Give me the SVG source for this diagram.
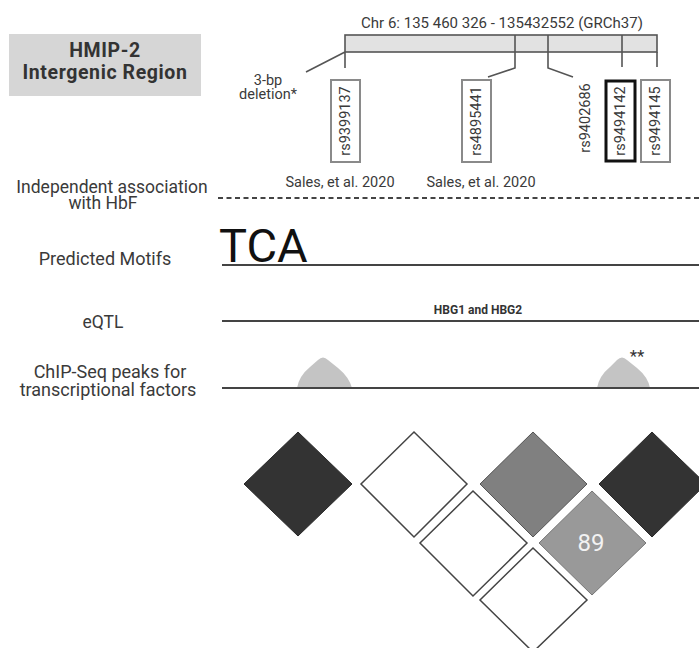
<svg xmlns="http://www.w3.org/2000/svg" width="699" height="648" viewBox="0 0 699 648">
<style>
text{font-family:Roboto,"Liberation Sans",sans-serif;fill:#3a3a3a}
.lab{font-size:17.5px;text-anchor:middle}
.rs{font-size:14.5px;text-anchor:middle}
.box{fill:none;stroke:#8a8a8a;stroke-width:2}
.trk{stroke:#444;stroke-width:2;fill:none}
.tick{stroke:#555;stroke-width:1.6;fill:none}
.dk{fill:#333;stroke:#2a2a2a;stroke-width:1}
.md{fill:#808080;stroke:#555;stroke-width:1}
.lt{fill:#999;stroke:#777;stroke-width:1}
.wh{fill:#fff;stroke:#444;stroke-width:1.5}
.peak{fill:#c4c4c4}
</style>
<g id="title">
<rect x="9" y="34" width="192" height="62" fill="#d6d6d6"/>
<text x="105" y="57" style="font-size:19.5px;font-weight:bold;text-anchor:middle;fill:#333;letter-spacing:0.6px">HMIP-2</text>
<text x="105" y="79" style="font-size:19.5px;font-weight:bold;text-anchor:middle;fill:#333;letter-spacing:0.6px">Intergenic Region</text>
</g>
<g id="chromosome">
<text x="502" y="28" style="font-size:15px;text-anchor:middle">Chr 6: 135 460 326 - 135432552 (GRCh37)</text>
<rect x="345" y="35" width="312" height="17" fill="#e2e2e2" stroke="#555" stroke-width="1.6"/>
</g>
<g id="connectors">
<path class="tick" d="M345,52 V68 M345,52 L306,72"/>
<path class="tick" d="M515,35 V68 L488,77"/>
<path class="tick" d="M548,35 V68 L573,77"/>
<path class="tick" d="M622,35 V67"/>
<path class="tick" d="M657,52 V67"/>
</g>
<g id="deletion">
<text x="268" y="85" style="font-size:14.5px;text-anchor:middle">3-bp</text>
<text x="268" y="99" style="font-size:14.5px;text-anchor:middle">deletion*</text>
</g>
<g id="rs9399137">
<rect class="box" x="331" y="80" width="29" height="82"/>
<text class="rs" transform="translate(350,121) rotate(-90)">rs9399137</text>
</g>
<g id="rs4895441">
<rect class="box" x="462" y="80" width="29" height="82"/>
<text class="rs" transform="translate(481,121) rotate(-90)">rs4895441</text>
</g>
<g id="rs9402686">
<text class="rs" transform="translate(590,118) rotate(-90)">rs9402686</text>
</g>
<g id="rs9494142">
<rect x="606" y="81" width="29" height="80" fill="none" stroke="#111" stroke-width="3"/>
<text class="rs" transform="translate(625,121) rotate(-90)">rs9494142</text>
</g>
<g id="rs9494145">
<rect class="box" x="641" y="80" width="29" height="82"/>
<text class="rs" transform="translate(660,121) rotate(-90)">rs9494145</text>
</g>
<g id="refs">
<text x="340" y="187" style="font-size:14.5px;text-anchor:middle">Sales, et al. 2020</text>
<text x="481" y="187" style="font-size:14.5px;text-anchor:middle">Sales, et al. 2020</text>
</g>
<g id="track-hbf">
<text class="lab" x="112" y="193">Independent association</text>
<text class="lab" x="103" y="209">with HbF</text>
<line x1="218" y1="198" x2="699" y2="198" stroke="#444" stroke-width="2" stroke-dasharray="5,3.5"/>
</g>
<g id="track-motifs">
<text class="lab" x="105" y="265" style="font-size:18px">Predicted Motifs</text>
<text x="219" y="262" style="font-size:47px;fill:#111">TCA</text>
<line class="trk" x1="222" y1="265" x2="699" y2="265"/>
</g>
<g id="track-eqtl">
<text class="lab" x="103" y="328">eQTL</text>
<text x="478" y="314" style="font-size:12px;font-weight:bold;text-anchor:middle;fill:#333">HBG1 and HBG2</text>
<line class="trk" x1="222" y1="321" x2="699" y2="321"/>
</g>
<g id="track-chip">
<text class="lab" x="110" y="378" style="font-size:18px">ChIP-Seq peaks for</text>
<text class="lab" x="108" y="396" style="font-size:18px">transcriptional factors</text>
<path class="peak" d="M297,388 Q299,376 310,367 L318,360 Q323,355 328,360 L338,368 Q349,377 352,388 Z"/>
<path class="peak" d="M597,388 Q599,376 610,367 L617,360 Q622,355 627,360 L637,368 Q648,377 650,388 Z"/>
<text x="637" y="362" style="font-size:17px;text-anchor:middle;fill:#333">**</text>
<line class="trk" x1="222" y1="388" x2="699" y2="388"/>
</g>
<g id="ld-1"><polygon class="dk" points="298,432 352,484 298,536 244,484"/></g>
<g id="ld-2"><polygon class="wh" points="414,432 467,484 414,537 361,484"/></g>
<g id="ld-3"><polygon class="md" points="533,432 587,484 533,537 480,484"/></g>
<g id="ld-4"><polygon class="dk" points="652,432 706,484 652,537 599,484"/></g>
<g id="ld-5"><polygon class="wh" points="473,491 527,543 473,596 420,543"/></g>
<g id="ld-6"><polygon class="lt" points="592,491 646,543 592,595 539,543"/>
<text x="591" y="543" style="font-size:24px;text-anchor:middle;dominant-baseline:central;fill:#f2f2f2">89</text></g>
<g id="ld-7"><polygon class="wh" points="533,548 587,600 533,652 480,600"/></g>
</svg>
